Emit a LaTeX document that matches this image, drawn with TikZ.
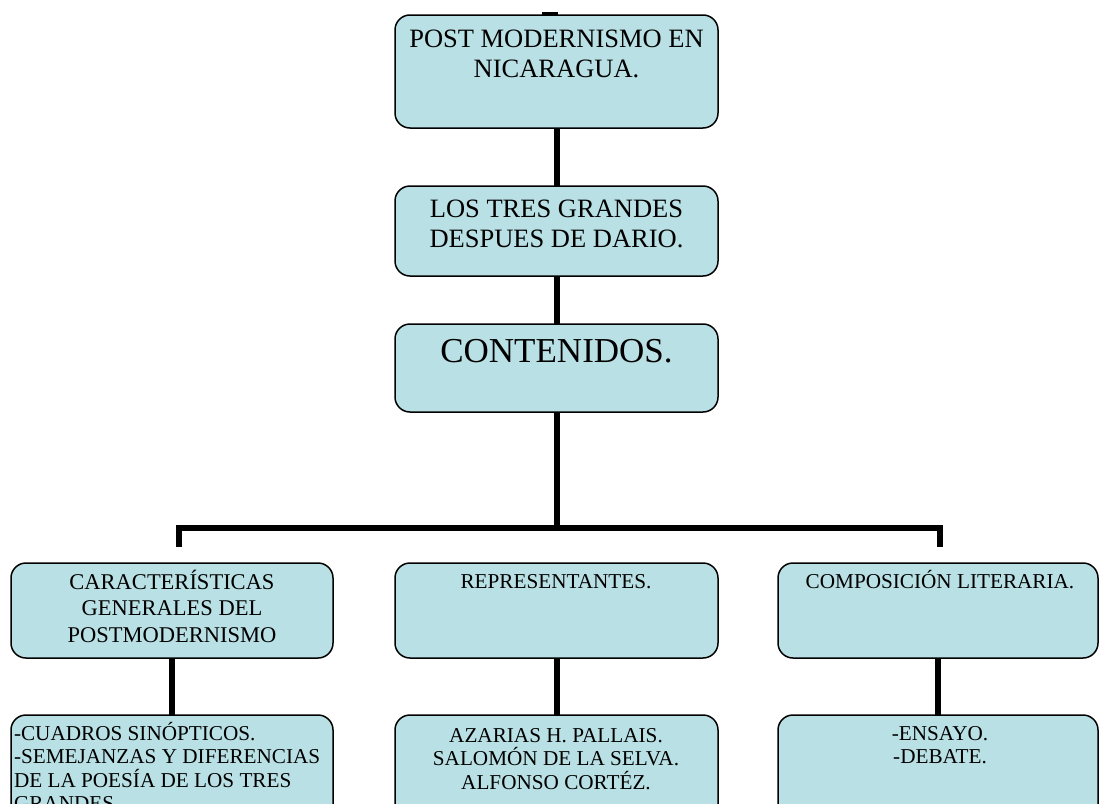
\documentclass[tikz,border=0pt]{standalone}
\usepackage{fontspec}
\setmainfont{Liberation Serif}
\definecolor{boxfill}{RGB}{185,224,228}
\newcommand\ctext[1]{\vtop{\halign{\hfil##\hfil\cr#1\crcr}}}
\newcommand\ltext[1]{\vtop{\halign{##\hfil\cr#1\crcr}}}
\tikzset{
  box/.style={draw=black, line width=1.5pt, fill=boxfill, rounded corners=15pt, inner sep=0pt, outer sep=0pt},
  conn/.style={draw=black, line width=6pt, line join=miter},
  txt/.style={inner sep=0pt, outer sep=0pt, text=black},
  big/.style={font=\fontsize{26.5}{30}\selectfont},
  huge/.style={font=\fontsize{35}{40}\selectfont},
  mid/.style={font=\fontsize{22.5}{26.5}\selectfont},
  sml/.style={font=\fontsize{21.2}{23.5}\selectfont}
}
\begin{document}
\begin{tikzpicture}[x=1pt,y=-1pt]
\useasboundingbox (0,0) rectangle (1099,803);
% boxes
\node[box, minimum width=323pt, minimum height=113pt] (b1) at (556.5,71.5) {};
\node[box, minimum width=323pt, minimum height=90pt] (b2) at (556.5,231) {};
\node[box, minimum width=323pt, minimum height=88pt] (b3) at (556.5,368) {};
\node[box, minimum width=322pt, minimum height=95pt] (c1) at (172,610.5) {};
\node[box, minimum width=323pt, minimum height=95pt] (c2) at (556.5,610.5) {};
\node[box, minimum width=320pt, minimum height=95pt] (c3) at (938,610.5) {};
\node[box, minimum width=322pt, minimum height=125pt] (d1) at (172,777.5) {};
\node[box, minimum width=323pt, minimum height=125pt] (d2) at (556.5,777.5) {};
\node[box, minimum width=320pt, minimum height=125pt] (d3) at (938,777.5) {};
% connectors
\coordinate (s1) at (542,13.5);
\coordinate (s2) at (558,13.5);
\draw[black, line width=3pt] (s1) -- (s2);
\draw[conn] (b1) -- (b2);
\draw[conn] (b2) -- (b3);
\coordinate (jM) at (556.5,531);
\coordinate (jL) at (179,528);
\coordinate (jR) at (940,528);
\coordinate (eL) at (179,547);
\coordinate (eR) at (940,547);
\draw[conn] (b3) -- (jM);
\draw[conn] (eL) -- (jL) -- (jR) -- (eR);
\draw[conn] (c1) -- (d1);
\draw[conn] (c2) -- (d2);
\draw[conn] (c3) -- (d3);
% texts
\node[txt, big, anchor=base] (t1) at (556.5,47) {\ctext{POST MODERNISMO EN\cr NICARAGUA.}};
\node[txt, big, anchor=base] (t2) at (556.5,217) {\ctext{LOS TRES GRANDES\cr DESPUES DE DARIO.}};
\node[txt, huge, anchor=base] (t3) at (556.5,362) {CONTENIDOS.};
\node[txt, mid, anchor=base] (u1) at (172,589) {\ctext{CARACTERÍSTICAS\cr GENERALES DEL\cr POSTMODERNISMO}};
\node[txt, sml, anchor=base] (u2) at (556,588) {REPRESENTANTES.};
\node[txt, sml, anchor=base] (u3) at (940,588) {COMPOSICIÓN LITERARIA.};
\node[txt, sml, anchor=base west] (v1) at (14,740) {\ltext{-CUADROS SINÓPTICOS.\cr -SEMEJANZAS Y DIFERENCIAS\cr DE LA POESÍA DE LOS TRES\cr GRANDES.}};
\node[txt, sml, anchor=base] (v2) at (556,742) {\ctext{AZARIAS H. PALLAIS.\cr SALOMÓN DE LA SELVA.\cr ALFONSO CORTÉZ.}};
\node[txt, sml, anchor=base] (v3) at (940,740) {\ctext{-ENSAYO.\cr -DEBATE.}};
\end{tikzpicture}
\end{document}
